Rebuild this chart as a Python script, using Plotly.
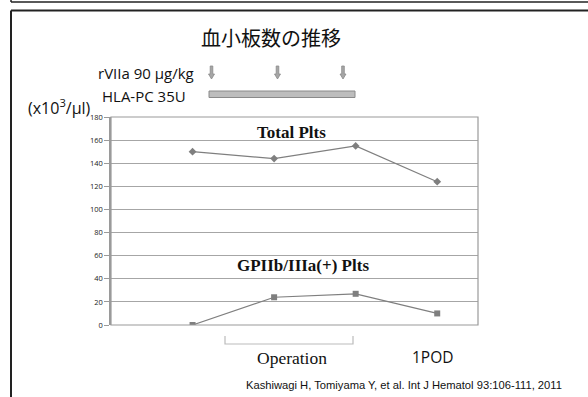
import plotly.graph_objects as go

# ---- data ----
time_points = [1, 2, 3, 4]
total_plts = [150, 144, 155, 124]
gp_plts = [0, 24, 27, 10]
y_ticks = [0, 20, 40, 60, 80, 100, 120, 140, 160, 180]

W, H = 588, 397
L, R, T, B = 111, 478, 117, 325  # plot area in pixels


def px(x):
    return (x - L) / (R - L)


def py(y):
    return (B - y) / (B - T)


GRAY = "#7f7f7f"

fig = go.Figure()
fig.add_trace(go.Scatter(
    x=time_points, y=total_plts, mode="lines+markers",
    line=dict(color=GRAY, width=1.2),
    marker=dict(symbol="diamond", size=6, color=GRAY),
    showlegend=False, hoverinfo="skip"))
fig.add_trace(go.Scatter(
    x=time_points, y=gp_plts, mode="lines+markers",
    line=dict(color=GRAY, width=1.2),
    marker=dict(symbol="square", size=6, color=GRAY),
    showlegend=False, hoverinfo="skip"))

shapes = []
# outer frame lines
shapes.append(dict(type="line", xref="paper", yref="paper",
                   x0=px(11), x1=px(W + 5), y0=py(2), y1=py(2),
                   line=dict(color="#222222", width=1.5)))
shapes.append(dict(type="line", xref="paper", yref="paper",
                   x0=px(11), x1=px(11), y0=py(-5), y1=py(2),
                   line=dict(color="#222222", width=1.5)))
shapes.append(dict(type="line", xref="paper", yref="paper",
                   x0=px(11), x1=px(W + 5), y0=py(10.5), y1=py(10.5),
                   line=dict(color="#222222", width=2)))
shapes.append(dict(type="line", xref="paper", yref="paper",
                   x0=px(11), x1=px(11), y0=py(10.5), y1=py(H + 5),
                   line=dict(color="#222222", width=2)))
# plot box (top & right)
shapes.append(dict(type="rect", xref="paper", yref="paper",
                   x0=0, x1=1, y0=0, y1=1,
                   line=dict(color="#9a9a9a", width=1.2)))
# HLA-PC bar
shapes.append(dict(type="rect", xref="paper", yref="paper",
                   x0=px(209), x1=px(355), y0=py(97.5), y1=py(91),
                   fillcolor="#bdbdbd", line=dict(color="#8a8a8a", width=1)))
# rVIIa arrows (small block arrows)
for ax_px in (211.5, 277.5, 343):
    path = (f"M {px(ax_px-1.3)},{py(66)} L {px(ax_px+1.3)},{py(66)} "
            f"L {px(ax_px+1.3)},{py(74)} L {px(ax_px+3)},{py(74)} "
            f"L {px(ax_px)},{py(79)} L {px(ax_px-3)},{py(74)} "
            f"L {px(ax_px-1.3)},{py(74)} Z")
    shapes.append(dict(type="path", xref="paper", yref="paper", path=path,
                       fillcolor="#a6a6a6", line=dict(color="#8a8a8a", width=0.8)))
# Operation bracket
shapes.append(dict(type="path", xref="paper", yref="paper",
                   path=f"M {px(225)},{py(336)} L {px(225)},{py(344)} L {px(353)},{py(344)} L {px(353)},{py(336)}",
                   line=dict(color="#bbbbbb", width=1.2)))


def label(text, x, y, anchor, family, size):
    return dict(text=text, x=px(x), y=py(y), xref="paper", yref="paper",
                xanchor=anchor, yanchor="middle", showarrow=False,
                font=dict(family=family, size=size, color="#111"))


annotations = [
    label("血小板数の推移", 270.5, 37, "center", "Noto Sans CJK JP", 20),
    label("rVIIa 90 μg/kg", 196, 73, "right", "Open Sans", 15),
    label("HLA-PC 35U", 188, 96, "right", "Open Sans", 15),
    label("(x10<sup>3</sup>/μl)", 26, 107, "left", "Open Sans", 16),
    label("<b>Total Plts</b>", 291, 132, "center", "Liberation Serif", 17),
    label("<b>GPIIb/IIIa(+) Plts</b>", 303, 265, "center", "Liberation Serif", 17),
    label("Operation", 292, 358, "center", "Liberation Serif", 17.5),
    label("1POD", 433, 357, "center", "Open Sans", 15.5),
    label("Kashiwagi H, Tomiyama Y, et al. Int J Hematol 93:106-111, 2011",
          244, 385, "left", "Liberation Sans", 11.2),
]

fig.update_layout(
    width=W, height=H,
    margin=dict(l=L, r=W - R, t=T, b=H - B),
    paper_bgcolor="white", plot_bgcolor="white",
    shapes=shapes, annotations=annotations,
    xaxis=dict(range=[0, 4.5], showgrid=False, showticklabels=False, ticks="",
               zeroline=False, showline=False),
    yaxis=dict(range=[0, 180], tickvals=y_ticks, ticks="outside", ticklen=5,
               tickcolor="#9a9a9a", showline=True, linecolor="#9a9a9a", linewidth=1.5,
               showgrid=True, gridcolor="#a6a6a6", gridwidth=1, zeroline=False,
               tickfont=dict(family="Open Sans", size=7.5, color="#222")),
)

fig.write_html("out.html", config={"displayModeBar": False},
               post_script="document.body.style.margin='0px';")
